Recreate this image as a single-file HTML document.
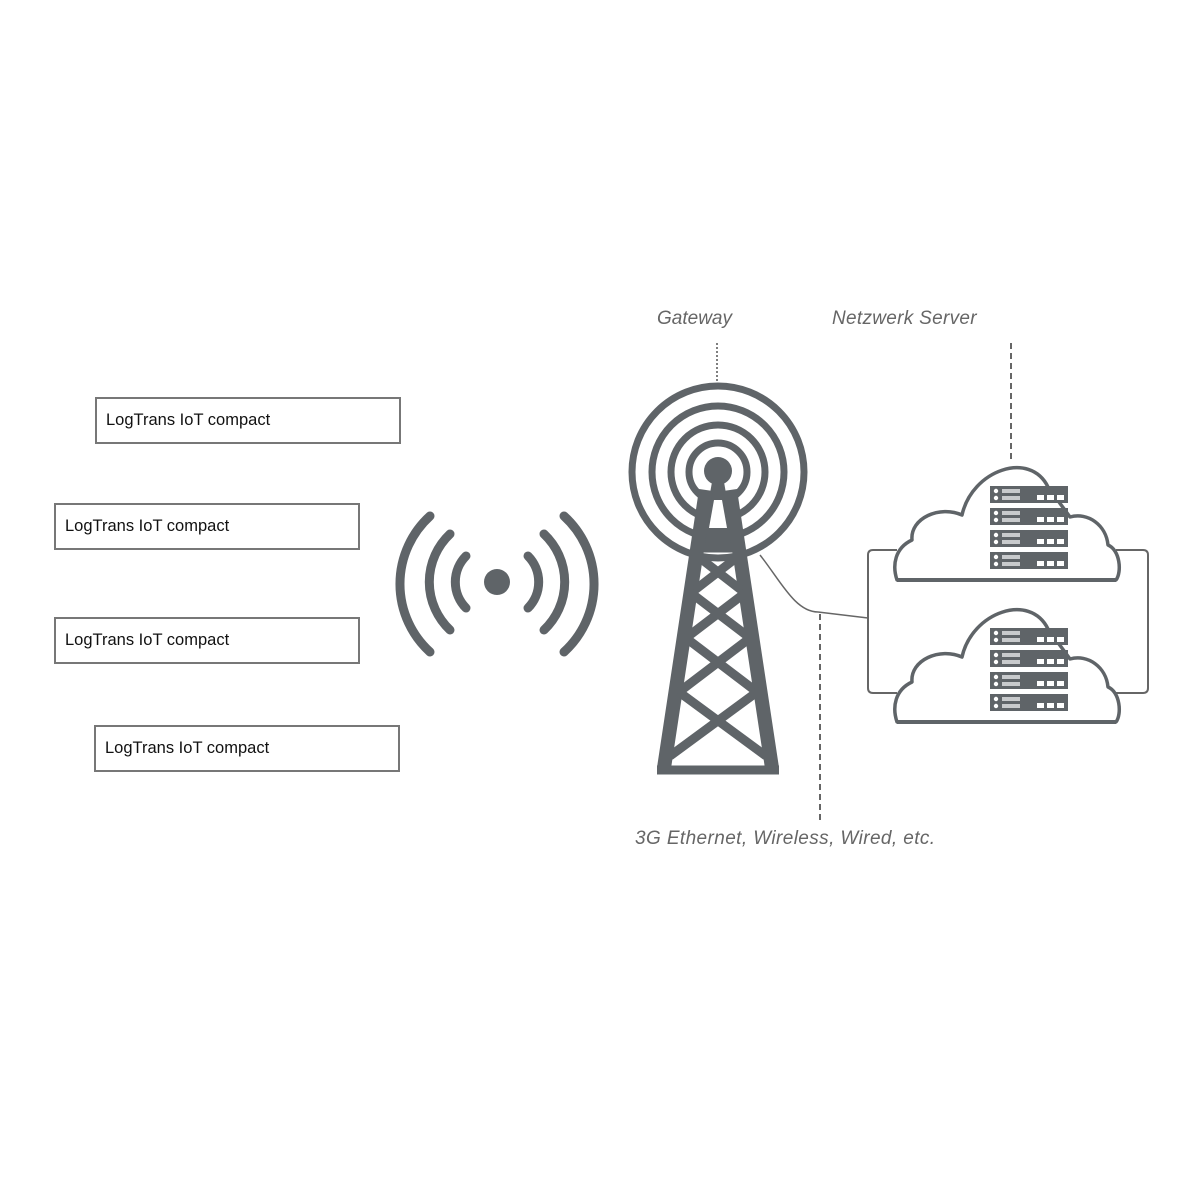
<!DOCTYPE html>
<html><head><style>
html,body{margin:0;padding:0;background:#fff;}
svg{display:block}
text{font-family:"Liberation Sans",sans-serif}
</style></head><body>
<svg width="1200" height="1200" viewBox="0 0 1200 1200" xmlns="http://www.w3.org/2000/svg">
<defs>
<g id="srv">
  <rect x="0" y="0" width="78" height="17" fill="#5f6468"/>
  <circle cx="6" cy="5" r="2.2" fill="#fff"/>
  <circle cx="6" cy="12" r="2.2" fill="#fff"/>
  <rect x="12" y="3" width="18" height="4" fill="#c8cacc"/>
  <rect x="12" y="10" width="18" height="4" fill="#c8cacc"/>
  <rect x="47" y="9" width="7" height="5" fill="#fff"/>
  <rect x="57" y="9" width="7" height="5" fill="#fff"/>
  <rect x="67" y="9" width="7" height="5" fill="#fff"/>
</g>
<g id="cloud">
  <path d="M897,580 C892,565 895,548 912,540 C910,518 940,505 962,515 C972,470 1030,450 1048,487 L1070,517 C1088,512 1106,525 1108,545 C1120,550 1122,572 1116,580 Z" fill="#fff" stroke="#5f6468" stroke-width="3.5" stroke-linejoin="round"/>
  <line x1="897" y1="580" x2="1116" y2="580" stroke="#5f6468" stroke-width="4"/>
  <use href="#srv" x="990" y="486"/>
  <use href="#srv" x="990" y="508"/>
  <use href="#srv" x="990" y="530"/>
  <use href="#srv" x="990" y="552"/>
</g>
</defs>

<!-- boxes -->
<g fill="#fff" stroke="#777" stroke-width="2">
<rect x="96" y="398" width="304" height="45"/>
<rect x="55" y="504" width="304" height="45"/>
<rect x="55" y="618" width="304" height="45"/>
<rect x="95" y="726" width="304" height="45"/>
</g>
<g font-size="16.5" fill="#111">
<text x="106" y="425">LogTrans IoT compact</text>
<text x="65" y="531">LogTrans IoT compact</text>
<text x="65" y="645">LogTrans IoT compact</text>
<text x="105" y="753">LogTrans IoT compact</text>
</g>

<!-- radio waves -->
<g fill="none" stroke="#5f6468" stroke-width="9" stroke-linecap="round">
<circle cx="497" cy="582" r="13" fill="#5f6468" stroke="none"/>
<path d="M466,556 A37,37 0 0 0 466,608"/>
<path d="M528,556 A37,37 0 0 1 528,608"/>
<path d="M450,534 A66,66 0 0 0 450,630"/>
<path d="M544,534 A66,66 0 0 1 544,630"/>
<path d="M430,516 A92,92 0 0 0 430,652"/>
<path d="M564,516 A92,92 0 0 1 564,652"/>
</g>

<!-- tower -->
<g fill="none" stroke="#5f6468">
<circle cx="718" cy="472" r="86" stroke-width="7"/>
<circle cx="718" cy="472" r="66" stroke-width="7"/>
<circle cx="718" cy="472" r="47" stroke-width="7"/>
<circle cx="718" cy="472" r="29" stroke-width="7"/>
</g>
<circle cx="718" cy="471" r="14" fill="#5f6468"/>
<polygon points="712,482 724,482 736,550 700,550" fill="#5f6468"/>
<polygon points="714,500 722,500 727,528 709,528" fill="#fff"/>
<g fill="none" stroke="#5f6468" stroke-width="14" stroke-linejoin="miter">
<path d="M706,490 L664,768 M730,490 L772,768"/>
</g>
<line x1="657" y1="770" x2="779" y2="770" stroke="#5f6468" stroke-width="9"/>
<g fill="none" stroke="#5f6468" stroke-width="9">
<line x1="700" y1="548" x2="736" y2="548"/>
<line x1="696" y1="555" x2="745" y2="593"/>
<line x1="740" y1="555" x2="691" y2="593"/>
<line x1="691" y1="593" x2="750" y2="638"/>
<line x1="745" y1="593" x2="686" y2="638"/>
<line x1="686" y1="638" x2="757" y2="692"/>
<line x1="750" y1="638" x2="679" y2="692"/>
<line x1="679" y1="692" x2="766" y2="756"/>
<line x1="757" y1="692" x2="670" y2="756"/>
</g>

<!-- connectors -->
<line x1="717" y1="343" x2="717" y2="381" stroke="#555" stroke-width="1.5" stroke-dasharray="2,2"/>
<line x1="1011" y1="343" x2="1011" y2="460" stroke="#666" stroke-width="2" stroke-dasharray="6,4"/>
<line x1="820" y1="614" x2="820" y2="822" stroke="#666" stroke-width="2" stroke-dasharray="6,4"/>
<path d="M760,555 C780,580 795,612 818,612 L868,618" fill="none" stroke="#666" stroke-width="1.5"/>
<path d="M897,550 L873,550 Q868,550 868,555 L868,688 Q868,693 873,693 L897,693" fill="none" stroke="#666" stroke-width="2"/>
<path d="M1116,550 L1143,550 Q1148,550 1148,555 L1148,688 Q1148,693 1143,693 L1116,693" fill="none" stroke="#666" stroke-width="2"/>

<use href="#cloud"/>
<use href="#cloud" y="142"/>

<g font-size="19" font-style="italic" fill="#666">
<text x="657" y="324">Gateway</text>
<text x="832" y="324" letter-spacing="0.3">Netzwerk Server</text>
<text x="635" y="844" letter-spacing="0.4">3G Ethernet,  Wireless,  Wired, etc.</text>
</g>
</svg>
</body></html>
